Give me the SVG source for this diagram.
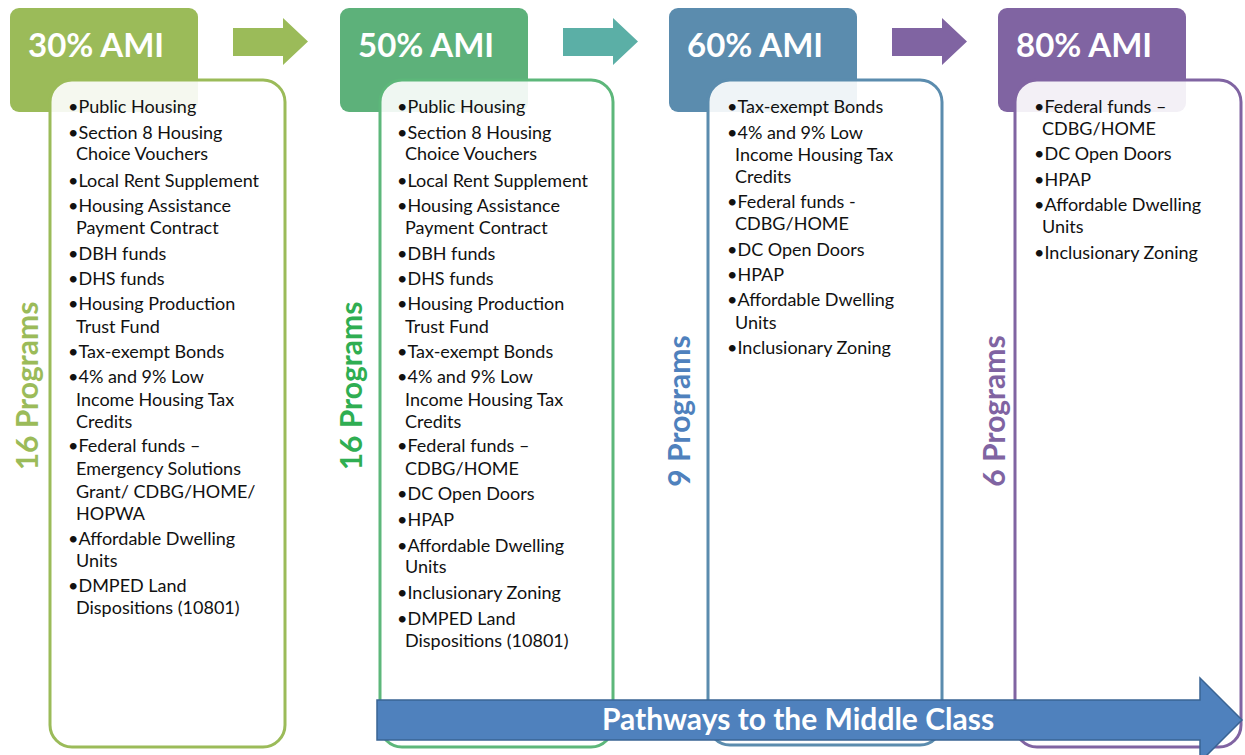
<svg xmlns="http://www.w3.org/2000/svg" width="1245" height="755" viewBox="0 0 1245 755">
<style>
.hdr{font-family:Lato,"Open Sans","Liberation Sans",sans-serif;font-weight:bold;font-size:33px;fill:#fff}
.body{font-family:Lato,"Open Sans","Liberation Sans",sans-serif;font-size:18px;fill:#111}
.vt{font-family:Lato,"Open Sans","Liberation Sans",sans-serif;font-weight:bold;font-size:30px;text-anchor:middle}
.box{fill:#fff;fill-opacity:0.9;stroke-width:3}
.big{font-family:Lato,"Open Sans","Liberation Sans",sans-serif;font-weight:bold;font-size:30px;fill:#fff;text-anchor:middle}
</style>
<rect width="1245" height="755" fill="#fff"/>
<g id="connectors">
<path d="M233,28 H283 V18 L308,41.5 L283,65 V56 H233 Z" fill="#9BBB59"/>
<path d="M563,28 H613 V18 L638,41.5 L613,65 V56 H563 Z" fill="#5BAFA6"/>
<path d="M892,28 H942 V18 L967,41.5 L942,65 V56 H892 Z" fill="#8064A2"/>
</g>
<g id="col30">
<rect x="10" y="8" width="188" height="104" rx="9" fill="#9BBB59"/>
<text class="hdr" x="28" y="57">30% AMI</text>
<rect class="box" x="50" y="80" width="235" height="667" rx="22" stroke="#9BBB59"/>
<text class="vt" transform="translate(38,386) rotate(-90)" fill="#9BBB59">16 Programs</text>
<text class="body">
<tspan x="68" y="113">•Public Housing</tspan>
<tspan x="68" y="139">•Section 8 Housing</tspan><tspan x="76" y="160">Choice Vouchers</tspan>
<tspan x="68" y="187">•Local Rent Supplement</tspan>
<tspan x="68" y="212">•Housing Assistance</tspan><tspan x="76" y="234">Payment Contract</tspan>
<tspan x="68" y="260">•DBH funds</tspan>
<tspan x="68" y="285">•DHS funds</tspan>
<tspan x="68" y="310">•Housing Production</tspan><tspan x="76" y="333">Trust Fund</tspan>
<tspan x="68" y="358">•Tax-exempt Bonds</tspan>
<tspan x="68" y="383">•4% and 9% Low</tspan><tspan x="76" y="406">Income Housing Tax</tspan><tspan x="76" y="428">Credits</tspan>
<tspan x="68" y="452">•Federal funds –</tspan><tspan x="76" y="475">Emergency Solutions</tspan><tspan x="76" y="498">Grant/ CDBG/HOME/</tspan><tspan x="76" y="520">HOPWA</tspan>
<tspan x="68" y="545">•Affordable Dwelling</tspan><tspan x="76" y="567">Units</tspan>
<tspan x="68" y="592">•DMPED Land</tspan><tspan x="76" y="614">Dispositions (10801)</tspan>
</text>
</g>
<g id="col50">
<rect x="340" y="8" width="188" height="104" rx="9" fill="#5DB17A"/>
<text class="hdr" x="358" y="57">50% AMI</text>
<rect class="box" x="380" y="80" width="233" height="667" rx="22" stroke="#5DB77A"/>
<text class="vt" transform="translate(362,386) rotate(-90)" fill="#2FAE52">16 Programs</text>
<text class="body">
<tspan x="397" y="113">•Public Housing</tspan>
<tspan x="397" y="139">•Section 8 Housing</tspan><tspan x="405" y="160">Choice Vouchers</tspan>
<tspan x="397" y="187">•Local Rent Supplement</tspan>
<tspan x="397" y="212">•Housing Assistance</tspan><tspan x="405" y="234">Payment Contract</tspan>
<tspan x="397" y="260">•DBH funds</tspan>
<tspan x="397" y="285">•DHS funds</tspan>
<tspan x="397" y="310">•Housing Production</tspan><tspan x="405" y="333">Trust Fund</tspan>
<tspan x="397" y="358">•Tax-exempt Bonds</tspan>
<tspan x="397" y="383">•4% and 9% Low</tspan><tspan x="405" y="406">Income Housing Tax</tspan><tspan x="405" y="428">Credits</tspan>
<tspan x="397" y="452">•Federal funds –</tspan><tspan x="405" y="475">CDBG/HOME</tspan>
<tspan x="397" y="500">•DC Open Doors</tspan>
<tspan x="397" y="526">•HPAP</tspan>
<tspan x="397" y="552">•Affordable Dwelling</tspan><tspan x="405" y="573">Units</tspan>
<tspan x="397" y="599">•Inclusionary Zoning</tspan>
<tspan x="397" y="625">•DMPED Land</tspan><tspan x="405" y="647">Dispositions (10801)</tspan>
</text>
</g>
<g id="col60">
<rect x="669" y="8" width="188" height="104" rx="9" fill="#5B8CAE"/>
<text class="hdr" x="687" y="57">60% AMI</text>
<rect class="box" x="708" y="80" width="234" height="665" rx="22" stroke="#5B8CAE"/>
<text class="vt" transform="translate(690,411) rotate(-90)" fill="#4F81BD">9 Programs</text>
<text class="body">
<tspan x="727" y="113">•Tax-exempt Bonds</tspan>
<tspan x="727" y="139">•4% and 9% Low</tspan><tspan x="735" y="161">Income Housing Tax</tspan><tspan x="735" y="183">Credits</tspan>
<tspan x="727" y="208">•Federal funds -</tspan><tspan x="735" y="230">CDBG/HOME</tspan>
<tspan x="727" y="256">•DC Open Doors</tspan>
<tspan x="727" y="281">•HPAP</tspan>
<tspan x="727" y="306">•Affordable Dwelling</tspan><tspan x="735" y="329">Units</tspan>
<tspan x="727" y="354">•Inclusionary Zoning</tspan>
</text>
</g>
<g id="col80">
<rect x="998" y="8" width="188" height="104" rx="9" fill="#8064A2"/>
<text class="hdr" x="1016" y="57">80% AMI</text>
<rect class="box" x="1015" y="80" width="226" height="667" rx="22" stroke="#8064A2"/>
<text class="vt" transform="translate(1005,411) rotate(-90)" fill="#8064A2">6 Programs</text>
<text class="body">
<tspan x="1034" y="113">•Federal funds –</tspan><tspan x="1042" y="135">CDBG/HOME</tspan>
<tspan x="1034" y="160">•DC Open Doors</tspan>
<tspan x="1034" y="186">•HPAP</tspan>
<tspan x="1034" y="211">•Affordable Dwelling</tspan><tspan x="1042" y="233">Units</tspan>
<tspan x="1034" y="259">•Inclusionary Zoning</tspan>
</text>
</g>
<g id="pathway">
<path d="M377,700 H1200 V678 L1242,720 L1200,762 V740 H377 Z" fill="#4F81BD" stroke="#3A6494" stroke-width="1.5"/>
<text class="big" x="798" y="730">Pathways to the Middle Class</text>
</g>
</svg>
